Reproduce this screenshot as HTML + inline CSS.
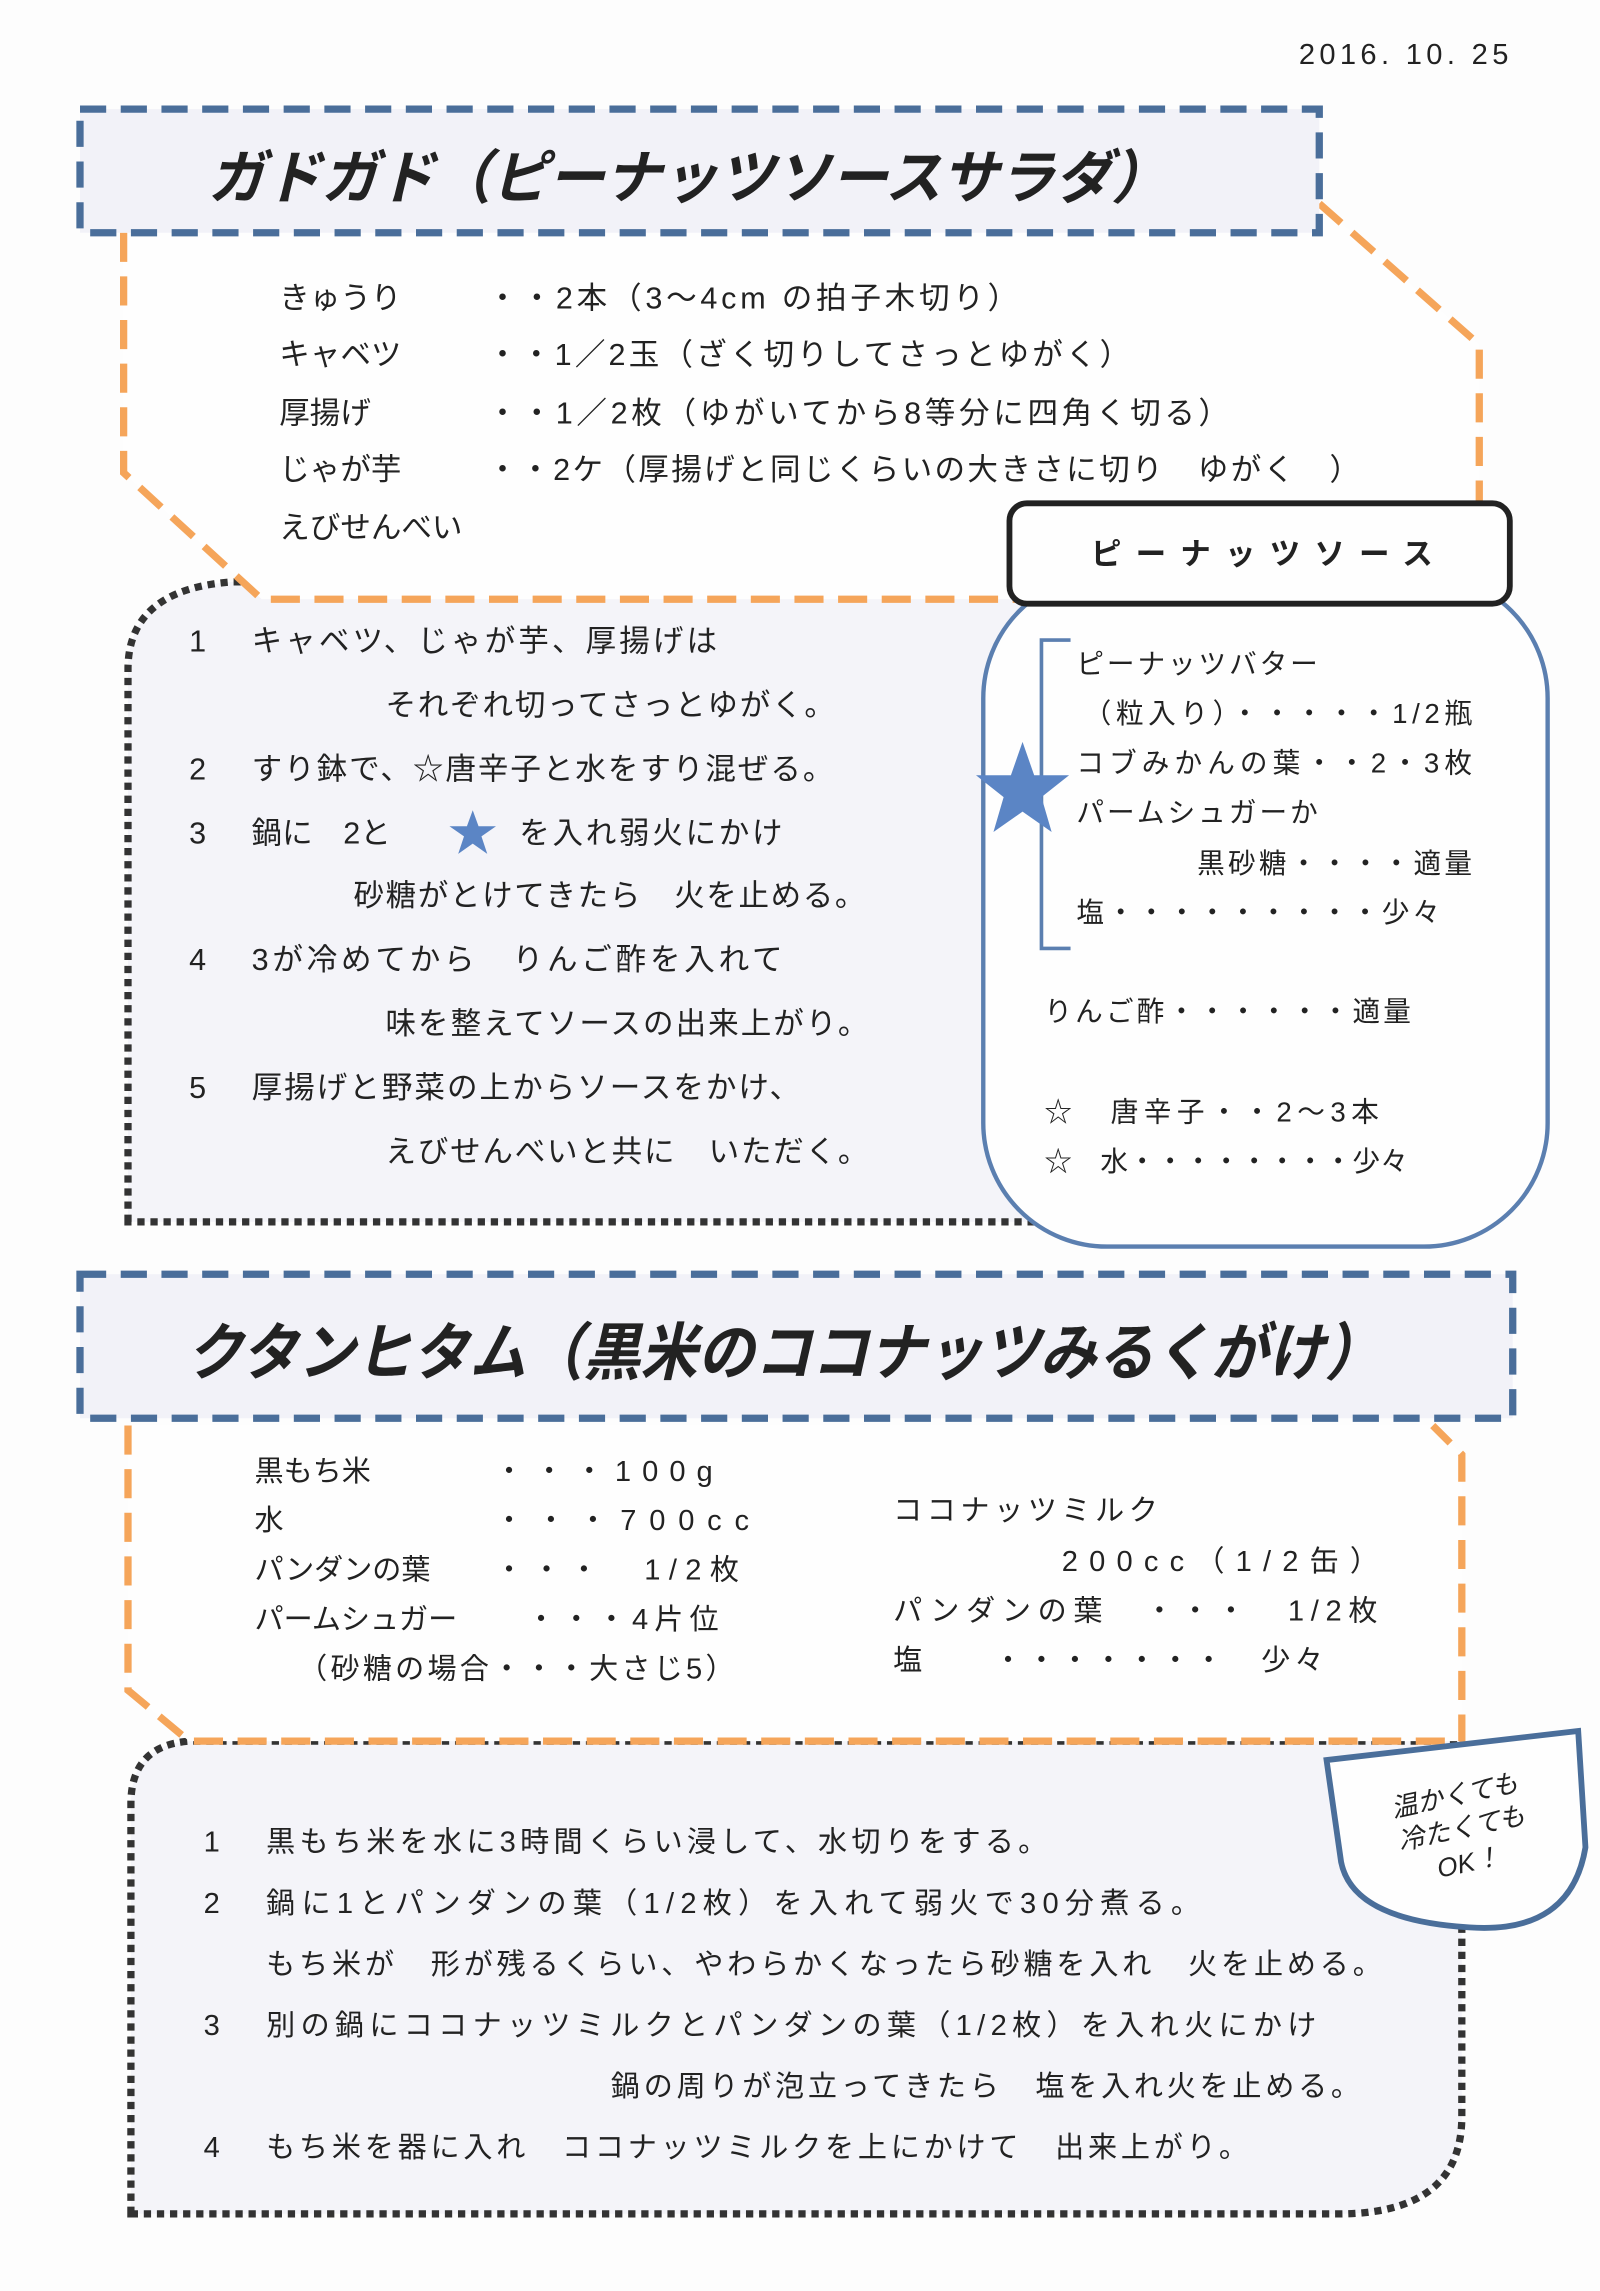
<!DOCTYPE html>
<html><head><meta charset="utf-8"><style>
html,body{margin:0;padding:0;background:#fdfdfd;}
svg{display:block;}
text{font-family:"Liberation Sans","Noto Sans CJK JP",sans-serif;fill:#222;}
.b{font-weight:bold;}
</style></head><body>
<svg width="1600" height="2291" viewBox="0 0 1100 1575" preserveAspectRatio="none" xmlns="http://www.w3.org/2000/svg">
<rect width="1100" height="1575" fill="#fdfdfd"/>
<text x="893" y="44" font-size="20" textLength="144" lengthAdjust="spacing">2016. 10. 25</text>

<path d="M88,840 L88,460 Q88,405 160,400 L720,400 L720,840 Z" fill="#f4f4f9" stroke="#333" stroke-width="5" stroke-dasharray="5 4"/>
<path d="M85,160 L85,325 L180,412 L700,412 L1017,345 L1017,237 L907,140" fill="#fefefe" stroke="none"/>
<path d="M85,160 L85,325 L180,412 L700,412 M907,140 L1017,237 L1017,345" fill="none" stroke="#f5a55a" stroke-width="5" stroke-dasharray="20 10"/>
<rect x="55" y="75" width="852" height="85" fill="#f2f2f8" stroke="#4a6e9a" stroke-width="5" stroke-dasharray="18 10"/>
<text x="143" y="136" font-size="40" class="b" style="font-style:italic" textLength="660" lengthAdjust="spacingAndGlyphs">ガドガド（ピーナッツソースサラダ）</text>

<g font-size="21">
<text x="192" y="212">きゅうり</text><text x="335" y="212" textLength="365" lengthAdjust="spacing">・・2本（3〜4cm の拍子木切り）</text>
<text x="192" y="251">キャベツ</text><text x="335" y="251" textLength="442" lengthAdjust="spacing">・・1／2玉（ざく切りしてさっとゆがく）</text>
<text x="192" y="291">厚揚げ</text><text x="335" y="291" textLength="510" lengthAdjust="spacing">・・1／2枚（ゆがいてから8等分に四角く切る）</text>
<text x="192" y="330">じゃが芋</text><text x="335" y="330" textLength="600" lengthAdjust="spacing">・・2ケ（厚揚げと同じくらいの大きさに切り　ゆがく　）</text>
<text x="192" y="370">えびせんべい</text>
</g>

<g font-size="21">
<text x="130" y="448">1</text><text x="173" y="448" textLength="320" lengthAdjust="spacing">キャベツ、じゃが芋、厚揚げは</text>
<text x="265" y="492" textLength="309" lengthAdjust="spacing">それぞれ切ってさっとゆがく。</text>
<text x="130" y="536">2</text><text x="173" y="536" textLength="400" lengthAdjust="spacing">すり鉢で、☆唐辛子と水をすり混ぜる。</text>
<text x="130" y="580">3</text><text x="173" y="580">鍋に　2と</text><text x="357" y="580" textLength="181" lengthAdjust="spacing">を入れ弱火にかけ</text>
<text x="243" y="623" textLength="352" lengthAdjust="spacing">砂糖がとけてきたら　火を止める。</text>
<text x="130" y="667">4</text><text x="173" y="667" textLength="365" lengthAdjust="spacing">3が冷めてから　りんご酢を入れて</text>
<text x="265" y="711" textLength="332" lengthAdjust="spacing">味を整えてソースの出来上がり。</text>
<text x="130" y="755">5</text><text x="173" y="755" textLength="377" lengthAdjust="spacing">厚揚げと野菜の上からソースをかけ、</text>
<text x="265" y="799" textLength="332" lengthAdjust="spacing">えびせんべいと共に　いただく。</text>
</g>
<polygon points="325,557 329,568 341,568 331,575 335,587 325,580 315,587 319,575 309,568 321,568" fill="#5b85c5"/>

<rect x="676" y="395" width="388" height="462" rx="85" fill="#fefefe" stroke="#5b7fb0" stroke-width="3"/>
<rect x="694" y="346" width="344" height="69" rx="12" fill="#fefefe" stroke="#222" stroke-width="4"/>
<text x="750" y="388" font-size="21" class="b" textLength="235" lengthAdjust="spacing">ピーナッツソース</text>
<path d="M736,440 L716,440 L716,652 L736,652" fill="none" stroke="#5b7fb0" stroke-width="2.5"/>
<polygon points="703,510 711,533 735,533 716,548 723,572 703,558 683,572 690,548 671,533 695,533" fill="#5b85c5"/>
<g font-size="19">
<text x="740" y="463" textLength="166" lengthAdjust="spacing">ピーナッツバター</text>
<text x="745" y="497" textLength="267" lengthAdjust="spacing">（粒入り）・・・・・1/2瓶</text>
<text x="740" y="531" textLength="272" lengthAdjust="spacing">コブみかんの葉・・2・3枚</text>
<text x="740" y="565" textLength="166" lengthAdjust="spacing">パームシュガーか</text>
<text x="823" y="600" textLength="189" lengthAdjust="spacing">黒砂糖・・・・適量</text>
<text x="740" y="634" textLength="250" lengthAdjust="spacing">塩・・・・・・・・・少々</text>
<text x="718" y="702" textLength="252" lengthAdjust="spacing">りんご酢・・・・・・適量</text>
<text x="718" y="771" textLength="230" lengthAdjust="spacing">☆　唐辛子・・2〜3本</text>
<text x="718" y="805" textLength="250" lengthAdjust="spacing">☆　水・・・・・・・・少々</text>
</g>

<path d="M90,1522 L90,1240 Q90,1200 130,1197 L1005,1197 L1005,1455 Q1005,1522 920,1522 Z" fill="#f4f4f9" stroke="#333" stroke-width="5" stroke-dasharray="5 4"/>
<path d="M88,980 L88,1162 L130,1197 L1005,1197 L1005,1000 L985,980 Z" fill="#fefefe"/>
<path d="M88,980 L88,1162 L130,1197 L1005,1197 L1005,1000 L985,980" fill="none" stroke="#f5a55a" stroke-width="5" stroke-dasharray="20 10"/>
<rect x="55" y="876" width="985" height="99" fill="#f2f2f8" stroke="#4a6e9a" stroke-width="5" stroke-dasharray="18 10"/>
<text x="128" y="945" font-size="43" class="b" style="font-style:italic" textLength="822" lengthAdjust="spacingAndGlyphs">クタンヒタム（黒米のココナッツみるくがけ）</text>

<g font-size="20">
<text x="175" y="1018">黒もち米</text><text x="340" y="1018" textLength="150" lengthAdjust="spacing">・・・100g</text>
<text x="175" y="1052">水</text><text x="340" y="1052" textLength="175" lengthAdjust="spacing">・・・700cc</text>
<text x="175" y="1086">パンダンの葉</text><text x="340" y="1086" textLength="168" lengthAdjust="spacing">・・・　1/2枚</text>
<text x="175" y="1120">パームシュガー</text><text x="362" y="1120" textLength="132" lengthAdjust="spacing">・・・4片位</text>
<text x="205" y="1154" textLength="300" lengthAdjust="spacing">（砂糖の場合・・・大さじ5）</text>
<text x="614" y="1045" textLength="182" lengthAdjust="spacing">ココナッツミルク</text>
<text x="730" y="1080" textLength="218" lengthAdjust="spacing">200cc（1/2缶）</text>
<text x="614" y="1114" textLength="333" lengthAdjust="spacing">パンダンの葉　・・・　1/2枚</text>
<text x="614" y="1148" textLength="296" lengthAdjust="spacing">塩　　・・・・・・・　少々</text>
</g>

<g font-size="20">
<text x="140" y="1273">1</text><text x="183" y="1273" textLength="537" lengthAdjust="spacing">黒もち米を水に3時間くらい浸して、水切りをする。</text>
<text x="140" y="1315">2</text><text x="183" y="1315" textLength="642" lengthAdjust="spacing">鍋に1とパンダンの葉（1/2枚）を入れて弱火で30分煮る。</text>
<text x="183" y="1357" textLength="767" lengthAdjust="spacing">もち米が　形が残るくらい、やわらかくなったら砂糖を入れ　火を止める。</text>
<text x="140" y="1399">3</text><text x="183" y="1399" textLength="722" lengthAdjust="spacing">別の鍋にココナッツミルクとパンダンの葉（1/2枚）を入れ火にかけ</text>
<text x="420" y="1441" textLength="515" lengthAdjust="spacing">鍋の周りが泡立ってきたら　塩を入れ火を止める。</text>
<text x="140" y="1483">4</text><text x="183" y="1483" textLength="675" lengthAdjust="spacing">もち米を器に入れ　ココナッツミルクを上にかけて　出来上がり。</text>
</g>

<path d="M912,1210 L1085,1190 L1090,1270 Q1080,1330 1010,1325 Q930,1320 922,1280 Z" fill="#fefefe" stroke="#4a6e9a" stroke-width="4"/>
<g transform="rotate(-12 1005 1258)" font-size="18" font-style="italic" text-anchor="middle">
<text x="1005" y="1240">温かくても</text>
<text x="1005" y="1263">冷たくても</text>
<text x="1005" y="1287">OK！</text>
</g>
</svg>
</body></html>
